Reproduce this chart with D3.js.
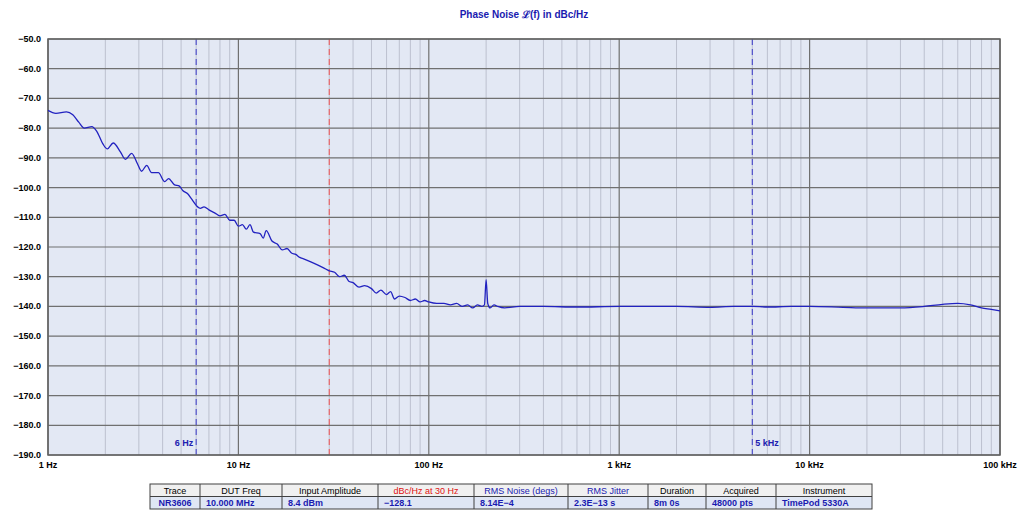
<!DOCTYPE html>
<html><head><meta charset="utf-8">
<script src="https://cdn.jsdelivr.net/npm/d3@7"></script>
<style>body{margin:0;background:#fff;font-family:"Liberation Sans",Arial,sans-serif}</style>
</head><body><svg id="chart" width="1024" height="532"></svg>
<script>
var freqs = [1,1.1,1.25,1.35,1.45,1.55,1.7,1.8,1.95,2.05,2.2,2.4,2.55,2.75,2.95,3.1,3.3,3.5,3.8,4.1,4.3,4.6,4.9,5.1,5.4,5.7,6,6.3,6.6,7,7.5,8,8.5,9,9.5,10,10.5,11,11.5,12,13,13.5,14,15,16,17,18,19,20,21,22,24,26,28,30,32,34,36,38,40,43,46,50,53,56,60,63,66,70,75,80,85,90,95,100,110,120,130,140,150,160,170,180,190,196,200,204,210,220,230,250,300,400,600,1000,2000,3000,4000,5000,6000,8000,10000,15000,20000,30000,40000,50000,60000,70000,80000,90000,100000];
var noise = [-74,-75,-74.5,-75.5,-78,-80,-79.5,-81,-85.5,-87,-85,-88,-90.5,-88.5,-92,-94.5,-92.5,-95,-95,-98,-97,-99,-99.5,-101,-102,-104,-106,-107,-106.5,-107.5,-108.5,-109.5,-109,-111,-111,-113,-112.5,-114,-112.5,-115,-115.5,-117,-114.5,-118,-119,-121,-120.5,-122,-122.5,-123.5,-124,-125,-126,-127,-128,-128.5,-130,-129.5,-131.5,-132,-133.5,-133,-134,-135.5,-134.5,-136,-135,-137.5,-136.5,-137,-138,-137.5,-138.5,-138,-138.5,-139,-139,-139.5,-139,-140,-139.5,-140.5,-139.5,-140,-139.5,-131,-139,-140.5,-139.5,-140,-140.5,-140,-140,-140.2,-140,-140,-140.3,-140,-140,-140.2,-140,-140,-140.3,-140.5,-140.5,-140,-139.3,-139,-139.5,-140.5,-141,-141.5];
var yTicks = d3.range(-50, -191, -10);
var xTicks = [1,10,100,1000,10000,100000];
var xTickLabels = ["1 Hz","10 Hz","100 Hz","1 kHz","10 kHz","100 kHz"];
var markers = [{f:6,label:"6 Hz",c:"#3a3ac8",side:-1},{f:30,label:"",c:"#f05050",side:1},{f:5000,label:"5 kHz",c:"#3a3ac8",side:1}];
var headers = ["Trace","DUT Freq","Input Amplitude","dBc/Hz at 30 Hz","RMS Noise (degs)","RMS Jitter","Duration","Acquired","Instrument"];
var values = ["NR3606","10.000 MHz","8.4 dBm","\u2212128.1","8.14E\u22124","2.3E\u221213 s","8m 0s","48000 pts","TimePod 5330A"];
var colEdges = [150,200,282,378,474,568,648,706,776,872];

var L=48,R=1000,T=39,B=455;
var svg=d3.select("#chart");
var x=d3.scaleLog().domain([1,100000]).range([L,R]);
var y=d3.scaleLinear().domain([-50,-190]).range([T,B]);
svg.append("rect").attr("x",L).attr("y",T).attr("width",R-L).attr("height",B-T).attr("fill","#e3e8f4");
var minor=[];
for(var d=1;d<100000;d*=10)for(var k=2;k<10;k++)minor.push(d*k);
svg.selectAll(".mn").data(minor).enter().append("line").attr("x1",x).attr("x2",x).attr("y1",T).attr("y2",B).attr("stroke","#bcc0cf").attr("stroke-width",1);
svg.selectAll(".mj").data(xTicks).enter().append("line").attr("x1",x).attr("x2",x).attr("y1",T).attr("y2",B).attr("stroke","#707070").attr("stroke-width",1.2);
svg.selectAll(".hy").data(yTicks).enter().append("line").attr("x1",L).attr("x2",R).attr("y1",y).attr("y2",y).attr("stroke","#707070").attr("stroke-width",1.2);
markers.forEach(function(m){
  svg.append("line").attr("x1",x(m.f)).attr("x2",x(m.f)).attr("y1",T).attr("y2",B).attr("stroke",m.c).attr("stroke-dasharray","6,4").attr("stroke-width",1);
  if(m.label) svg.append("text").attr("x",x(m.f)+m.side*3).attr("y",B-9).attr("text-anchor",m.side<0?"end":"start")
    .attr("font-size",9).attr("font-weight","bold").attr("fill","#2020b0").text(m.label);
});
svg.append("rect").attr("x",L).attr("y",T).attr("width",R-L).attr("height",B-T).attr("fill","none").attr("stroke","#606060").attr("stroke-width",1.5);
svg.append("path").datum(freqs.map(function(f,i){return [f,noise[i]];}))
  .attr("d",d3.line().curve(d3.curveMonotoneX).x(function(d){return x(d[0]);}).y(function(d){return y(d[1]);}))
  .attr("fill","none").attr("stroke","#2222c0").attr("stroke-width",1.3);
svg.selectAll(".yl").data(yTicks).enter().append("text").attr("x",L-7).attr("y",function(d){return y(d)+3;})
  .attr("text-anchor","end").attr("font-size",9).attr("font-weight","bold").text(function(d){return d.toFixed(1).replace("-","\u2212");});
svg.selectAll(".xl").data(xTicks).enter().append("text").attr("x",x).attr("y",B+13)
  .attr("text-anchor","middle").attr("font-size",9).attr("font-weight","bold").text(function(d,i){return xTickLabels[i];});
svg.append("text").attr("x",(L+R)/2).attr("y",18).attr("text-anchor","middle").attr("font-size",10).attr("font-weight","bold").attr("fill","#1a1ab0").text("Phase Noise \u2112(f) in dBc/Hz");
// table
var tT=484,rh=12.5;
svg.append("rect").attr("x",150).attr("y",tT).attr("width",722).attr("height",rh).attr("fill","#f0f0f0");
svg.append("rect").attr("x",150).attr("y",tT+rh).attr("width",722).attr("height",rh).attr("fill","#dfe6f4");
svg.append("rect").attr("x",150).attr("y",tT).attr("width",722).attr("height",rh*2).attr("fill","none").attr("stroke","#404040");
svg.append("line").attr("x1",150).attr("x2",872).attr("y1",tT+rh).attr("y2",tT+rh).attr("stroke","#404040");
colEdges.slice(1,-1).forEach(function(e){svg.append("line").attr("x1",e).attr("x2",e).attr("y1",tT).attr("y2",tT+2*rh).attr("stroke","#404040");});
headers.forEach(function(h,i){
  var c=(colEdges[i]+colEdges[i+1])/2;
  svg.append("text").attr("x",c).attr("y",tT+9.5).attr("text-anchor","middle").attr("font-size",9)
    .attr("fill",i==3?"#e01010":(i==4||i==5)?"#1a1ab0":"#000").text(h);
  svg.append("text").attr("x",i==0?c:colEdges[i]+6).attr("y",tT+rh+9.5).attr("text-anchor",i==0?"middle":"start").attr("font-size",9)
    .attr("font-weight","bold").attr("fill","#1a1ab0").text(values[i]);
});
</script></body></html>
